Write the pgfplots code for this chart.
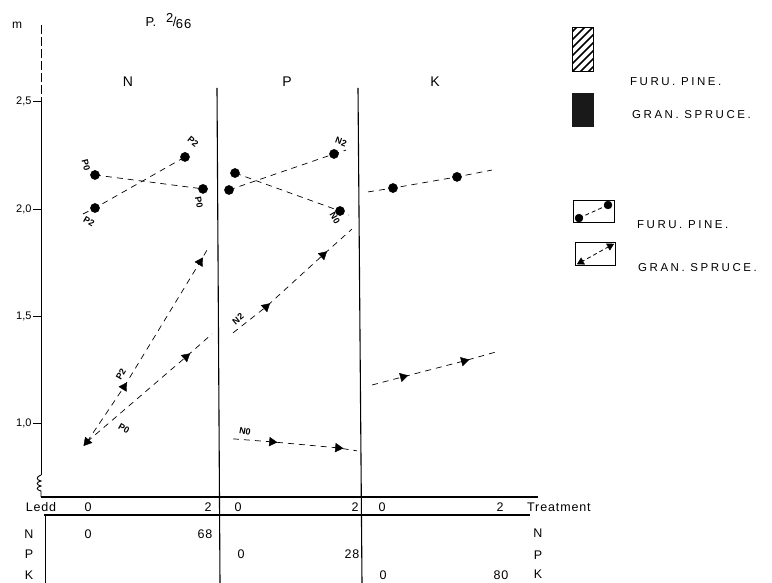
\documentclass[border=0pt]{standalone}
\usepackage{fontspec}
\setmainfont{Liberation Sans}
\newfontfamily\wide[LetterSpace=22]{Liberation Sans}
\newfontfamily\semi[LetterSpace=7]{Liberation Sans}
\usepackage{pgfplots}
\pgfplotsset{compat=1.18}
\newcommand{\PX}[2]{({#1pt-41pt},{497pt-#2pt})}
\pgfplotsset{
  dl/.style={black, dash pattern=on 6pt off 5pt, line width=0.7pt, forget plot},
  cm/.style={only marks, mark=*, mark size=4.6pt, black, forget plot},
  tm/.style={only marks, mark=triangle*, mark size=5pt, black, forget plot, mark options={rotate=#1}},
}
\begin{document}
\begin{tikzpicture}
\useasboundingbox (-41pt,-86pt) rectangle (731pt,497pt);
\begin{axis}[
  at={(0pt,0pt)}, anchor=south west,
  scale only axis, width=497pt, height=472pt,
  xmin=41, xmax=538, ymin=0.658, ymax=2.858,
  axis x line*=bottom, axis y line*=left,
  x axis line style={draw=none}, y axis line style={draw=none},
  xtick=\empty,
  ytick={1,1.5,2,2.5}, yticklabels={{1,0},{1,5},{2,0},{2,5}},
  tick align=outside, major tick length=8pt,
  ytick style={black, line width=0.9pt},
  yticklabel style={font=\fontsize{11}{13}\selectfont, xshift=2pt},
  clip=false,
]
% ---- Panel N : circles
\addplot[dl] coordinates {(95,2.159) (203,2.094)};
\addplot[cm] coordinates {(95,2.159) (203,2.094)};
\addplot[dl] coordinates {(83,1.977) (95,2.005) (185,2.243)};
\addplot[cm] coordinates {(95,2.005) (185,2.243)};
% ---- Panel N : triangles
\addplot[dl] coordinates {(87,0.915) (124,1.171) (200,1.753) (207,1.809)};
\addplot[tm=-32] coordinates {(124,1.171) (200,1.753)};
\addplot[dl] coordinates {(87,0.915) (186,1.311) (212,1.418)};
\addplot[tm=-49] coordinates {(186,1.311)};
\addplot[tm=140] coordinates {(87,0.915)};
% ---- Panel P : circles
\addplot[dl] coordinates {(229,2.089) (334,2.257) (346,2.275)};
\addplot[cm] coordinates {(229,2.089) (334,2.257)};
\addplot[dl] coordinates {(235,2.168) (340,1.991) (349,1.972)};
\addplot[cm] coordinates {(235,2.168) (340,1.991)};
% ---- Panel P : triangles
\addplot[dl] coordinates {(233,1.423) (266,1.544) (323,1.786) (352,1.907)};
\addplot[tm=-48] coordinates {(266,1.544) (323,1.786)};
\addplot[dl] coordinates {(233,0.929) (272,0.915) (338,0.887) (357,0.873)};
\addplot[tm=-95] coordinates {(272,0.915) (338,0.887)};
% ---- Panel K
\addplot[dl] coordinates {(368,2.080) (393,2.098) (457,2.150) (492,2.182)};
\addplot[cm] coordinates {(393,2.098) (457,2.150)};
\addplot[dl] coordinates {(372,1.180) (403,1.218) (464,1.292) (496,1.334)};
\addplot[tm=-75] coordinates {(403,1.218) (464,1.292)};
% ---- legend glyphs
\addplot[black, dash pattern=on 4pt off 3pt, line width=0.8pt, forget plot] coordinates {(579,1.958) (608,2.019)};
\addplot[cm, mark size=4pt] coordinates {(579,1.958) (608,2.019)};
\addplot[black, dash pattern=on 4pt off 3pt, line width=0.8pt, forget plot] coordinates {(581,1.753) (610,1.828)};
\addplot[tm=-62, mark size=4.2pt] coordinates {(610,1.828)};
\addplot[tm=118, mark size=4.2pt] coordinates {(581,1.753)};
\end{axis}
% axes and frame lines
\draw[line width=0.9pt] \PX{41}{100} -- \PX{41}{475};
\draw[line width=0.9pt, dash pattern=on 9pt off 3pt] \PX{41}{25} -- \PX{41}{100};
\draw[line width=0.9pt] \PX{41}{475} .. controls \PX{36}{477} and \PX{36}{480} .. \PX{41}{481}
  .. controls \PX{36}{482} and \PX{36}{485} .. \PX{41}{486}
  .. controls \PX{36}{487} and \PX{36}{490} .. \PX{41}{491} -- \PX{41}{497};
\draw[line width=1.1pt] \PX{41}{497} -- \PX{538}{497};
\draw[line width=1.1pt] \PX{44}{515} -- \PX{530}{515};
\draw[line width=0.9pt] \PX{45}{515} -- \PX{45}{583};
\draw[line width=1.1pt] \PX{217}{88} -- \PX{220}{583};
\draw[line width=1.1pt] \PX{358}{88} -- \PX{362}{583};
% titles
\node[font=\fontsize{12}{14}\selectfont] at \PX{17}{25} {m};
\node[font=\fontsize{13}{15}\selectfont, anchor=west] at \PX{142}{21} {P.\hspace{10pt}\raisebox{0.7ex}{2}\kern-0.5pt/\kern-0.5pt\raisebox{-0.3ex}{\addfontfeatures{LetterSpace=8}66}};
\node[font=\fontsize{14}{16}\selectfont] at \PX{128}{82} {N};
\node[font=\fontsize{14}{16}\selectfont] at \PX{287}{82} {P};
\node[font=\fontsize{14}{16}\selectfont] at \PX{435}{82} {K};
% line labels
\begin{scope}[every node/.style={font=\fontsize{9}{10}\bfseries\selectfont, inner sep=0pt}]
\node[rotate=-75] at \PX{86}{165} {P0};
\node[rotate=-40] at \PX{193}{142} {P2};
\node[rotate=-80] at \PX{199}{202} {P0};
\node[rotate=-30] at \PX{89}{222} {P2};
\node[rotate=-20] at \PX{341}{142} {N2};
\node[rotate=-60] at \PX{335}{218} {N0};
\node[rotate=60] at \PX{121}{374} {P2};
\node[rotate=-30] at \PX{124}{429} {P0};
\node[rotate=40] at \PX{238}{319} {N2};
\node[rotate=-10] at \PX{245}{431} {N0};
\end{scope}
% table texts
\begin{scope}[every node/.style={font=\fontsize{12.5}{14}\semi, inner sep=0pt}]
\node at \PX{41}{507} {Ledd};
\node at \PX{88}{507} {0};
\node at \PX{208}{507} {2};
\node at \PX{238}{507} {0};
\node at \PX{355}{507} {2};
\node at \PX{382}{507} {0};
\node at \PX{500}{507} {2};
\node[anchor=west] at \PX{527}{507} {Treatment};
\node at \PX{29}{534} {N};
\node at \PX{88}{534} {0};
\node at \PX{205}{534} {68};
\node at \PX{538}{533} {N};
\node at \PX{29}{554} {P};
\node at \PX{241}{554} {0};
\node at \PX{352}{554} {28};
\node at \PX{538}{555} {P};
\node at \PX{29}{575} {K};
\node at \PX{383}{575} {0};
\node at \PX{501}{575} {80};
\node at \PX{538}{574} {K};
\end{scope}
% legend
\begin{scope}
\clip \PX{572}{28} rectangle \PX{593}{72};
\foreach \k in {0,...,9} {
  \pgfmathsetmacro{\ya}{95-\k*8}
  \pgfmathsetmacro{\yb}{55-\k*8}
  \draw[line width=1.6pt] \PX{565}{\ya} -- \PX{605}{\yb};
}
\end{scope}
\draw[line width=1pt] \PX{572}{28} rectangle \PX{593}{72};
\fill[black!90] \PX{572}{93} rectangle \PX{594}{127};
\draw[line width=0.9pt] \PX{573}{200} rectangle \PX{614}{222};
\draw[line width=0.9pt] \PX{575}{242} rectangle \PX{615}{265};
\begin{scope}[every node/.style={font=\fontsize{11.5}{13}\wide, anchor=west, inner sep=0pt}]
\node at \PX{630}{82} {FURU. PINE.};
\node at \PX{632}{115} {GRAN. SPRUCE.};
\node at \PX{637}{225} {FURU. PINE.};
\node at \PX{638}{268} {GRAN. SPRUCE.};
\end{scope}
\end{tikzpicture}
\end{document}
